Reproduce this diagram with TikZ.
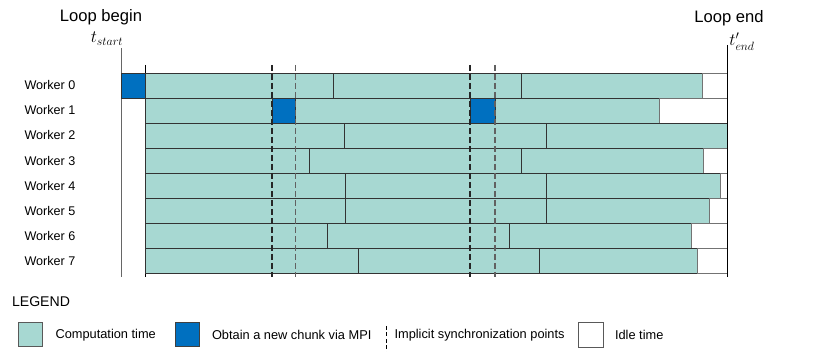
\documentclass[tikz,border=0pt]{standalone}
\usepackage{fontspec}
\setmainfont{Liberation Sans}
\definecolor{comp}{HTML}{A7D8D2}
\definecolor{mpi}{HTML}{0070C0}
\definecolor{edge}{HTML}{333333}
\begin{document}
\begin{tikzpicture}[x=1pt,y=-1pt,
  seg/.style={draw=edge,line width=0.9pt},
  compseg/.style={seg,fill=comp},
  mpiseg/.style={seg,fill=mpi},
  idleseg/.style={draw=black!55,line width=0.9pt,fill=white},
  syncA/.style={draw=black!85,line width=1.1pt,dash pattern=on 6pt off 3pt},
  syncB/.style={draw=black!62,line width=1.5pt,dash pattern=on 6pt off 3pt},
  wlabel/.style={font=\fontsize{12.6}{15}\selectfont,anchor=center},
  title/.style={font=\fontsize{16.6}{19}\selectfont,anchor=center,inner sep=1pt},
  ltext/.style={font=\fontsize{12.8}{15}\selectfont,anchor=west},
  mth/.style={font=\fontsize{18}{21}\selectfont,anchor=center,inner sep=1pt}]
\useasboundingbox (0,0) rectangle (830,352);
% time axis lines
\draw[black!60,line width=1.3pt] (121.7,48) -- (121.7,277);
\draw[black,line width=1.3pt] (145.3,65) -- (145.3,277);
% Worker 0
\path[mpiseg] (121.7,73) rectangle (145.3,98);
\path[compseg] (145.3,73) rectangle (333.3,98);
\path[compseg] (333.3,73) rectangle (521.3,98);
\path[compseg] (521.3,73) rectangle (702,98);
\path[idleseg] (702,73) rectangle (727.3,98);
% Worker 1
\path[compseg] (145.3,98) rectangle (272,123);
\path[mpiseg] (272,98) rectangle (295.7,123);
\path[compseg] (295.7,98) rectangle (470,123);
\path[mpiseg] (470,98) rectangle (495,123);
\path[compseg] (495,98) rectangle (659,123);
\path[idleseg] (659,98) rectangle (727.3,123);
% Worker 2
\path[compseg] (145.3,123) rectangle (344.3,148);
\path[compseg] (344.3,123) rectangle (546,148);
\path[compseg] (546,123) rectangle (727.3,148);
% Worker 3
\path[compseg] (145.3,148) rectangle (309.7,173);
\path[compseg] (309.7,148) rectangle (521.3,173);
\path[compseg] (521.3,148) rectangle (703.7,173);
\path[idleseg] (703.7,148) rectangle (727.3,173);
% Worker 4
\path[compseg] (145.3,173) rectangle (345.3,198);
\path[compseg] (345.3,173) rectangle (546,198);
\path[compseg] (546,173) rectangle (720.3,198);
\path[idleseg] (720.3,173) rectangle (727.3,198);
% Worker 5
\path[compseg] (145.3,198) rectangle (345.3,223);
\path[compseg] (345.3,198) rectangle (546,223);
\path[compseg] (546,198) rectangle (709.3,223);
\path[idleseg] (709.3,198) rectangle (727.3,223);
% Worker 6
\path[compseg] (145.3,223) rectangle (327,248);
\path[compseg] (327,223) rectangle (509.3,248);
\path[compseg] (509.3,223) rectangle (691,248);
\path[idleseg] (691,223) rectangle (727.3,248);
% Worker 7
\path[compseg] (145.3,248) rectangle (358,273);
\path[compseg] (358,248) rectangle (539.3,273);
\path[compseg] (539.3,248) rectangle (697.3,273);
\path[idleseg] (697.3,248) rectangle (727.3,273);
% right axis on top
\draw[black,line width=1.3pt] (727.3,45) -- (727.3,277);
% synchronization points
\foreach \sx in {272,470}
  \draw[syncA] (\sx,65) -- (\sx,277);
\foreach \sx in {295.7,495}
  \draw[syncB] (\sx,65) -- (\sx,277);
% worker labels
\foreach \i in {0,...,7}
  \node[wlabel] (w\i) at (50,{85.5+25*\i}) {Worker \i};
% titles
\node[title] (lb) at (101,17) {Loop begin};
\node[mth] (ts) at (107,38.5) {$t_{start}$};
\node[title] (le) at (729,18.5) {Loop end};
\node[mth] (te) at (742,41.5) {$t'_{end}$};
% legend
\node[font=\fontsize{14.1}{17}\selectfont,anchor=west] (lg) at (8.5,301.5) {LEGEND};
\path[compseg,draw=black!65] (18.3,322.7) rectangle (42.3,346.7);
\node[ltext] (l1) at (52,335) {Computation time};
\path[mpiseg,draw=black!75] (175.7,322.7) rectangle (199.3,346.7);
\node[ltext] (l2) at (208.5,335) {Obtain a new chunk via MPI};
\draw[black,line width=0.8pt,dash pattern=on 4pt off 2.5pt] (386.7,326) -- (386.7,352);
\node[ltext] (l3) at (391,335) {Implicit synchronization points};
\path[idleseg,draw=black!65] (578.3,322.7) rectangle (603.3,347);
\node[ltext] (l4) at (611.5,335) {Idle time};
\end{tikzpicture}
\end{document}
